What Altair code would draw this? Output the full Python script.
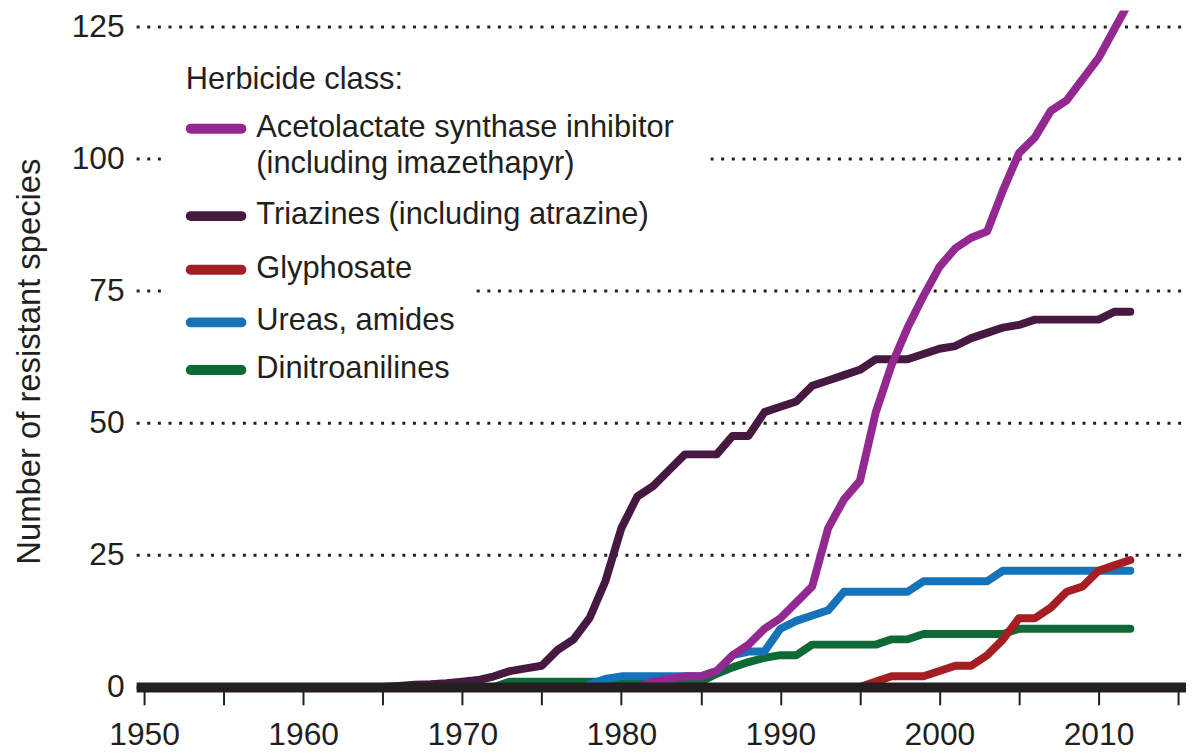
import altair as alt
import pandas as pd

FONT = "Liberation Sans"
INK = "#231f20"

# ---- data ----
als_years = list(range(1981, 2013))
als_values = [0, 1, 1.5, 2, 2, 3, 6, 8, 11, 13, 16, 19, 30, 35.5, 39, 52, 61, 68, 74,
              79.5, 83, 85, 86.2, 94, 101, 104, 109, 111, 115, 119, 124.5, 130]

tri_years = list(range(1965, 2013))
tri_values = [0, 0.2, 0.4, 0.5, 0.7, 1, 1.3, 2, 3, 3.5,
              4, 7, 9, 13, 20, 30, 36, 38, 41, 44,
              44, 44, 47.5, 47.5, 52, 53, 54, 57, 58, 59,
              60, 62, 62, 62, 63, 64, 64.5, 66, 67, 68,
              68.5, 69.5, 69.5, 69.5, 69.5, 69.5, 71, 71]

gly_years = list(range(1995, 2013))
gly_values = [0, 1, 2, 2, 2, 3, 4, 4, 6, 9, 13, 13, 15, 18, 19, 22, 23, 24]

urea_years = list(range(1978, 2013))
urea_values = [0.5, 1.5, 2, 2, 2, 2, 2, 2, 3, 6,
               6.7, 6.7, 11, 12.5, 13.5, 14.5, 18, 18, 18, 18,
               18, 20, 20, 20, 20, 20, 22, 22, 22, 22,
               22, 22, 22, 22, 22]

dna_years = list(range(1972, 2013))
dna_values = [0, 1, 1, 1, 1, 1, 1, 1, 1, 1,
              1, 1, 1, 1, 2.5, 3.7, 4.7, 5.5, 6, 6,
              8, 8, 8, 8, 8, 9, 9, 10, 10, 10,
              10, 10, 10, 11, 11, 11, 11, 11, 11, 11,
              11]

legend_title = "Herbicide class:"
legend_labels = [["Acetolactate synthase inhibitor", "(including imazethapyr)"],
                 ["Triazines (including atrazine)"],
                 ["Glyphosate"],
                 ["Ureas, amides"],
                 ["Dinitroanilines"]]
colors = {"als": "#922890", "tri": "#461941", "gly": "#a51e23",
          "urea": "#1473b9", "dna": "#0f6937"}
legend_keys = ["als", "tri", "gly", "urea", "dna"]

x_ticks = list(range(1950, 2020, 5))
y_ticks = [0, 25, 50, 75, 100, 125]

# ---- scales / axes ----
X = alt.X("year:Q",
          scale=alt.Scale(domain=[1949.5, 2015.5], nice=False, zero=False),
          axis=alt.Axis(values=x_ticks, format="d",
                        labelExpr="datum.value % 10 == 0 ? datum.label : ''",
                        grid=False, domainWidth=10, domainColor=INK,
                        tickSize=18, tickWidth=2, tickColor=INK,
                        labelPadding=15, labelFontSize=32, labelColor=INK,
                        labelFont=FONT, labelFlush=False, labelOverlap=False,
                        title=None, zindex=1))
Y = alt.Y("value:Q",
          scale=alt.Scale(domain=[0, 128], nice=False, zero=True),
          axis=alt.Axis(values=y_ticks, grid=True, gridColor=INK, gridWidth=3,
                        gridDash=[3, 7.7], domain=False, ticks=False, tickSize=0,
                        labelPadding=12, labelFontSize=32, labelFont=FONT,
                        labelColor=INK, labelFlush=False, labelOverlap=False,
                        title="Number of resistant species", titleFontSize=33,
                        titleFont=FONT, titleFontWeight="normal", titleColor=INK,
                        titleAngle=270, titleX=-97, titleY=353,
                        titleAlign="center", titleBaseline="alphabetic"))

series = {
    "tri": (tri_years, tri_values),
    "dna": (dna_years, dna_values),
    "urea": (urea_years, urea_values),
    "gly": (gly_years, gly_values),
    "als": (als_years, als_values),
}

layers = []
dummy = pd.DataFrame({"k": [0]})

# white masks where the legend interrupts the grid
for (x1, x2, y1, y2) in [(31, 578, 142, 156), (31, 341, 275, 289)]:
    layers.append(alt.Chart(dummy).mark_rect(color="white").encode(
        x=alt.value(x1), x2=alt.value(x2), y=alt.value(y1), y2=alt.value(y2)))

for key in ["tri", "dna", "urea", "gly", "als"]:
    yrs, vals = series[key]
    df = pd.DataFrame({"year": yrs, "value": vals})
    layers.append(alt.Chart(df).mark_line(color=colors[key], strokeWidth=8,
                                          strokeCap="round", strokeJoin="round",
                                          clip=True).encode(x=X, y=Y))

# legend
def text_layer(txt, x, y):
    return alt.Chart(dummy).mark_text(text=txt, align="left", baseline="alphabetic",
                                      font=FONT, fontSize=31, color=INK).encode(
        x=alt.value(x), y=alt.value(y))

layers.append(text_layer(legend_title, 50, 79))
swatch_y = [119, 207, 261, 314, 362]
for i, key in enumerate(legend_keys):
    sy = swatch_y[i]
    layers.append(alt.Chart(dummy).mark_rule(color=colors[key], strokeWidth=10,
                                             strokeCap="round").encode(
        x=alt.value(55), x2=alt.value(106), y=alt.value(sy)))
    for j, line in enumerate(legend_labels[i]):
        layers.append(text_layer(line, 121, sy + 8 + j * 37))

chart = alt.layer(*layers).properties(
    width=1057, height=681,
    autosize=alt.AutoSizeParams(type="none"),
    padding={"left": 129, "top": 0, "right": 0, "bottom": 62},
).configure_view(stroke=None)

chart.save("out.html", embed_options={"renderer": "svg", "actions": False})
